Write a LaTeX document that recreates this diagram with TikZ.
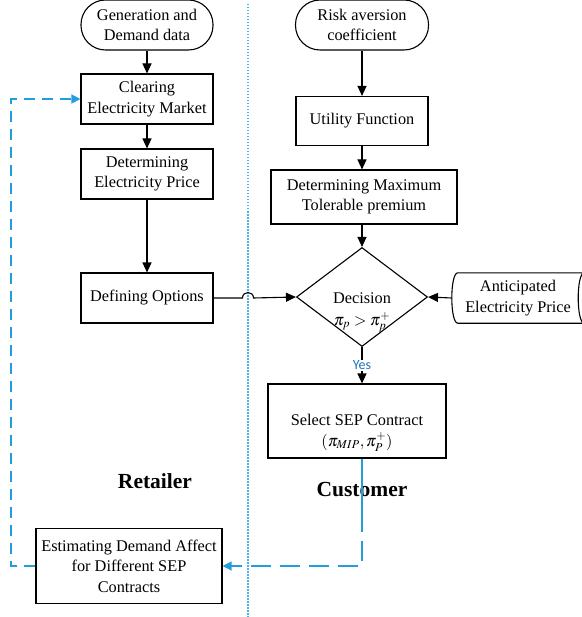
\documentclass[tikz,border=0pt]{standalone}
\usepackage{mathptmx}
\usepackage{fontspec}
\setmainfont{Liberation Serif}
\newfontfamily\yesfont{Carlito}
\usetikzlibrary{shapes.geometric,arrows.meta}

\definecolor{flowblue}{RGB}{35,158,218}
\definecolor{laneblue}{RGB}{75,178,230}
\definecolor{yesblue}{RGB}{30,118,188}

\begin{document}
\begin{tikzpicture}[x=1pt,y=-1pt,font=\fontsize{16.3}{20.5}\selectfont,
    proc/.style={draw,line width=1.1pt,align=center,minimum width=132pt,minimum height=50pt,inner sep=2pt},
    term/.style={proc,rounded corners=24.5pt},
    flow/.style={line width=1.1pt,-{Triangle[length=10pt,width=9pt]}},
    loop/.style={flowblue,line width=1.2pt,dash pattern=on 11pt off 7pt,-{Triangle[length=9pt,width=9pt]}},
    lane/.style={font=\fontsize{21.5}{24}\selectfont\bfseries}]
    \useasboundingbox (0,0) rectangle (581,617);
    %% divider
    \draw[laneblue,line width=1.2pt,dash pattern=on 1.5pt off 1.5pt] (248,4) -- (248,617);
    %% retailer
    \node[term] (gen) at (147,25) {Generation and\\Demand data};
    \node[proc] (clear) at (147,99) {Clearing\\Electricity Market};
    \node[proc] (price) at (147,174) {Determining\\Electricity Price};
    \node[proc] (options) at (147,298) {Defining Options};
    \node[proc,minimum width=186pt,minimum height=75pt] (estim) at (129,566) {Estimating Demand Affect\\for Different SEP\\Contracts};
    \node[lane] (retailer) at (155,481) {Retailer};
    %% customer
    \node[term,minimum width=133pt] (risk) at (362,25) {Risk aversion\\coefficient};
    \node[proc,minimum height=49pt] (utility) at (362,121) {Utility Function};
    \node[proc,minimum width=186pt,minimum height=54pt] (maxprem) at (364,197) {Determining Maximum\\Tolerable premium};
    \node[draw,diamond,line width=1.1pt,minimum width=131pt,minimum height=99pt,inner sep=0pt] (decision) at (362,297) {};
    \node (dectext) at (362,298) {Decision};
    \node (decrule) at (362,322) {$\pi_p > \pi_p^+$};
    \node[minimum width=132pt,minimum height=50pt,align=center] (antic) at (518,298) {Anticipated\\Electricity Price};
    \draw[line width=1.1pt] ([xshift=6pt]antic.north west) -- (antic.north east)
        .. controls ([xshift=-8pt]antic.north east) and ([xshift=-8pt]antic.south east) .. (antic.south east)
        -- ([xshift=6pt]antic.south west)
        .. controls ([xshift=-2pt]antic.south west) and ([xshift=-2pt]antic.north west) .. cycle;
    \node[proc,minimum width=178pt,minimum height=74pt] (select) at (357,421) {};
    \node[align=center] (seltext) at (357,433) {Select SEP Contract\\$(\pi_{MIP},\pi_P^+)$};
    \node[lane] (customer) at (362,490) {Customer};
    %% arrows
    \draw[flow] (gen) -- (clear);
    \draw[flow] (clear) -- (price);
    \draw[flow] (price) -- (options);
    \draw[flow] (risk) -- (utility);
    \draw[flow] (utility.south) -- (utility.south |- maxprem.north);
    \draw[flow] (decision.north |- maxprem.south) -- (decision.north);
    \coordinate (hop) at (248,298);
    \draw[flow] (options.east) -- ([xshift=-5.5pt]hop)
        .. controls ([xshift=-5.5pt,yshift=7.3pt]hop) and ([xshift=5.5pt,yshift=7.3pt]hop) .. ([xshift=5.5pt]hop)
        -- (decision.west);
    \draw[flow] (antic.west) -- (decision.east);
    \draw[flow] (decision.south) -- node[fill=white,inner sep=1pt,text=yesblue,font=\yesfont\fontsize{14}{16}\selectfont] (yes) {Yes} (decision.south |- select.north);
    %% feedback to the market
    \coordinate (cut) at (362,512);
    \coordinate (turn) at (362,566);
    \coordinate (back) at (11,566);
    \draw[flowblue,line width=1.2pt] ([xshift=5pt]select.south) -- (cut);
    \draw[loop,dash pattern=on 20pt off 9pt] (cut) -- (turn) -- (estim.east);
    \draw[loop] (estim.west) -- (back) |- (clear.west);
\end{tikzpicture}
\end{document}
